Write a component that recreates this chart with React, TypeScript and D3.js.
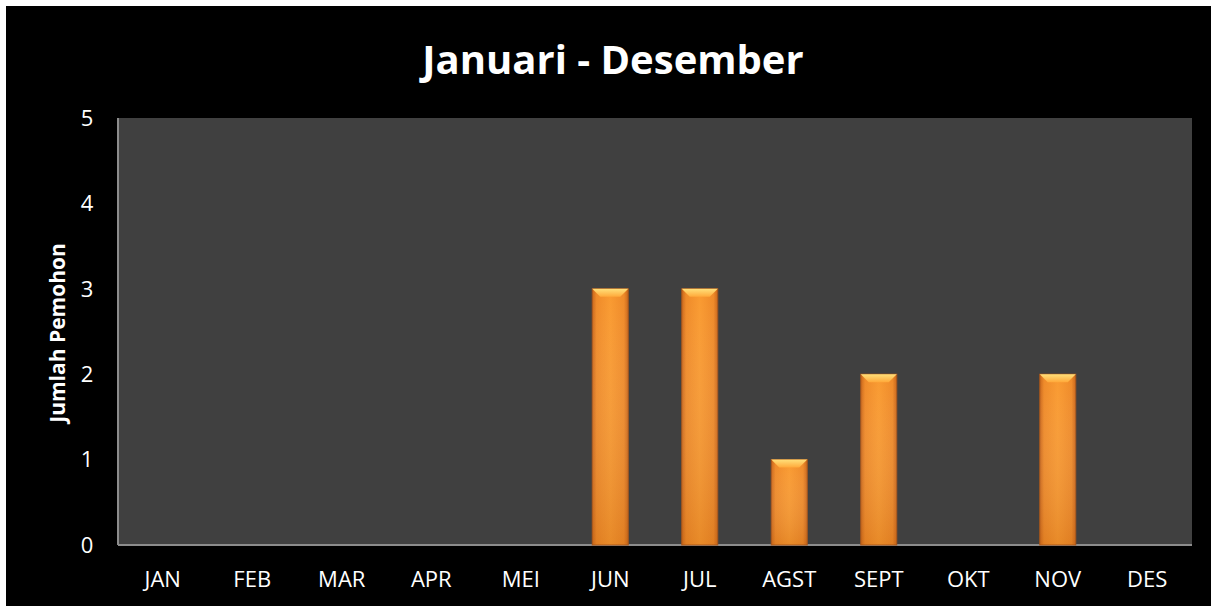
import React from "react";
import * as d3 from "d3";

const months = ["JAN", "FEB", "MAR", "APR", "MEI", "JUN", "JUL", "AGST", "SEPT", "OKT", "NOV", "DES"];
const values = [0, 0, 0, 0, 0, 3, 3, 1, 2, 0, 2, 0];
const yTicks = [0, 1, 2, 3, 4, 5];
const title = "Januari - Desember";
const yTitle = "Jumlah Pemohon";

const W = 1211;
const H = 606;
const plot = { left: 118, right: 1192, top: 118, bottom: 545 };

export default function App() {
  const xc = d3.scaleBand<string>().domain(months).range([plot.left, plot.right]);
  const y = d3.scaleLinear().domain([0, 5]).range([plot.bottom, plot.top]);
  const bw = 36;
  const font = "'Open Sans', 'Liberation Sans', sans-serif";
  return (
    <svg width={W} height={H} style={{ position: "absolute", left: 0, top: 0 }}>
      <defs>
        <linearGradient id="barG" x1="0" x2="1" y1="0" y2="0">
          <stop offset="0" stopColor="#c9661a" />
          <stop offset="0.12" stopColor="#ef8a28" />
          <stop offset="0.5" stopColor="#f99a30" />
          <stop offset="0.88" stopColor="#ef8a28" />
          <stop offset="1" stopColor="#c9661a" />
        </linearGradient>
        <linearGradient id="barV" x1="0" x2="0" y1="0" y2="1">
          <stop offset="0" stopColor="#ffffff" stopOpacity="0" />
          <stop offset="1" stopColor="#b35a10" stopOpacity="0.25" />
        </linearGradient>
        <linearGradient id="capG" x1="0" x2="0" y1="0" y2="1">
          <stop offset="0" stopColor="#ffe07a" />
          <stop offset="1" stopColor="#ffa93a" />
        </linearGradient>
      </defs>
      <rect x={0} y={0} width={W} height={H} fill="#ffffff" />
      <rect x={6} y={6} width={W - 6} height={H - 6} fill="#000000" />
      <rect x={plot.left} y={plot.top} width={plot.right - plot.left} height={plot.bottom - plot.top} fill="#404040" />
      <line x1={plot.left} x2={plot.left} y1={plot.top} y2={plot.bottom} stroke="#8c8c8c" strokeWidth={2} />
      <line x1={plot.left} x2={plot.right} y1={plot.bottom} y2={plot.bottom} stroke="#8c8c8c" strokeWidth={2} />
      {months.map((m, i) => {
        const v = values[i];
        if (!v) return null;
        const cx = (xc(m) as number) + xc.bandwidth() / 2;
        const x0 = cx - bw / 2;
        const y0 = y(v);
        const h = plot.bottom - y0;
        const cap = 8;
        return (
          <g key={m}>
            <rect x={x0} y={y0} width={bw} height={h} fill="url(#barG)" stroke="#a8561a" strokeWidth={1} />
            <rect x={x0} y={y0} width={bw} height={h} fill="url(#barV)" />
            <polygon
              points={`${x0},${y0} ${x0 + bw},${y0} ${x0 + bw - cap},${y0 + cap} ${x0 + cap},${y0 + cap}`}
              fill="url(#capG)"
            />
          </g>
        );
      })}
      {yTicks.map((t) => (
        <text key={t} x={87} y={y(t)} dy="0.35em" textAnchor="middle" fill="#ffffff" fontFamily={font} fontSize={22}>
          {t}
        </text>
      ))}
      {months.map((m) => (
        <text
          key={m}
          x={(xc(m) as number) + xc.bandwidth() / 2}
          y={587}
          textAnchor="middle"
          fill="#ffffff"
          fontFamily={font}
          fontSize={22}
        >
          {m}
        </text>
      ))}
      <text x={613} y={74} textAnchor="middle" fill="#ffffff" fontFamily={font} fontWeight="bold" fontSize={40}>
        {title}
      </text>
      <text
        transform={`translate(65,333) rotate(-90)`}
        textAnchor="middle"
        fill="#ffffff"
        fontFamily={font}
        fontWeight="bold"
        fontSize={21}
      >
        {yTitle}
      </text>
    </svg>
  );
}
